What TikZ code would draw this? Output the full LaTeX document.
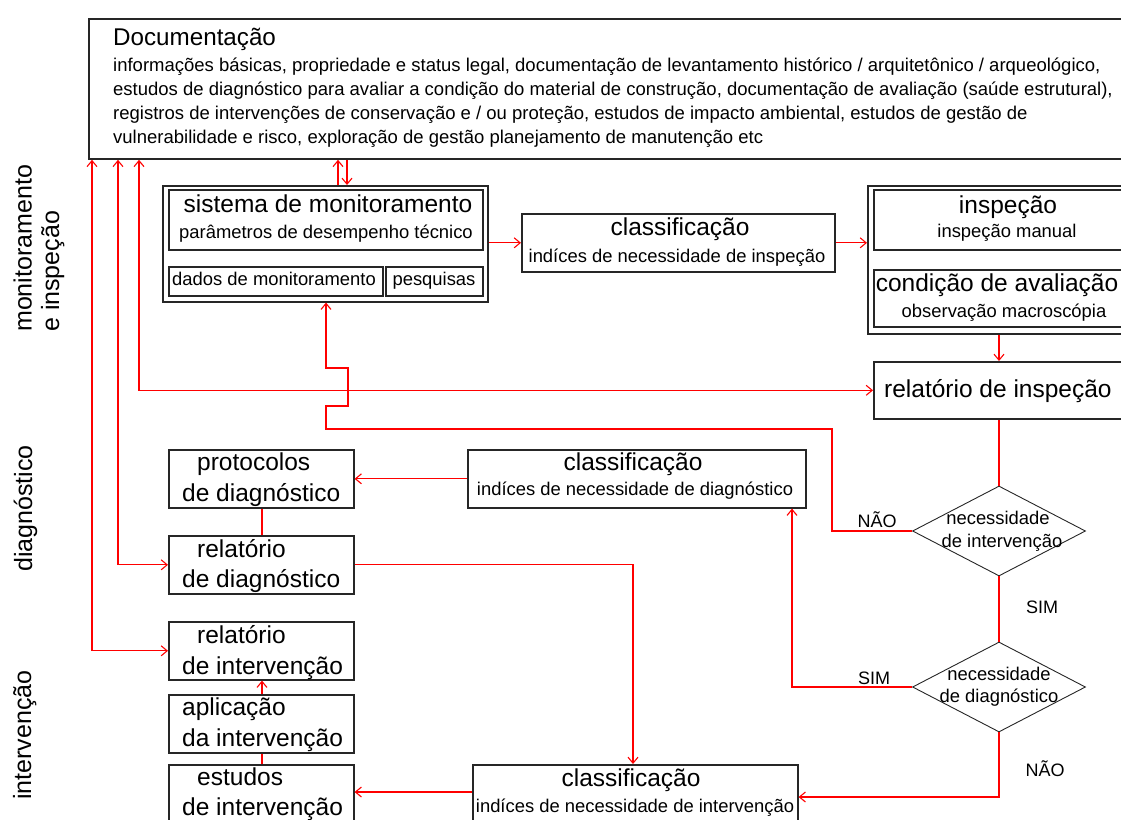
\documentclass[tikz,border=0pt]{standalone}
\usepackage{fontspec}
\setmainfont{Liberation Sans}
\usetikzlibrary{arrows.meta,shapes.geometric}
\begin{document}
\begin{tikzpicture}[x=1pt,y=-1pt,
  box/.style={draw=black!85, line width=1.6pt, rectangle, inner sep=0pt, anchor=north west},
  dbox/.style={draw=black!85, line width=0.9pt, diamond, inner sep=0pt, minimum width=173pt, minimum height=90pt},
  txt/.style={inner sep=0pt, anchor=base},
  ttl/.style={txt, font=\fontsize{24.5}{28}\selectfont},
  sub/.style={txt, font=\fontsize{18.4}{22}\selectfont},
  body/.style={inner sep=0pt, anchor=base west, font=\fontsize{18.5}{22}\selectfont},
  lbl/.style={txt, font=\fontsize{18}{21}\selectfont},
  side/.style={inner sep=0pt, anchor=base west, rotate=90, font=\fontsize{25}{28}\selectfont},
  link/.style={draw=red, line width=1.1pt},
  arr/.style={link, -{Straight Barb[length=6pt,width=10pt]}},
  darr/.style={link, {Straight Barb[length=6pt,width=10pt]}-{Straight Barb[length=6pt,width=10pt]}},
]
\useasboundingbox (0,0) rectangle (1121,819);
\clip (0,0) rectangle (1121,819);

% Documentation
\node[box, line width=1.8pt, minimum width=1050pt, minimum height=140pt] (doc) at (88,18) {};
\node[txt, anchor=base west, font=\fontsize{24.2}{28}\selectfont] (docT) at (113,45) {Documentação};
\node[body] (docL1) at (113,71) {informações básicas, propriedade e status legal, documentação de levantamento histórico / arquitetônico / arqueológico,};
\node[body] (docL2) at (113,95) {estudos de diagnóstico para avaliar a condição do material de construção, documentação de avaliação (saúde estrutural),};
\node[body] (docL3) at (113,119) {registros de intervenções de conservação e / ou proteção, estudos de impacto ambiental, estudos de gestão de};
\node[body] (docL4) at (113,143) {vulnerabilidade e risco, exploração de gestão planejamento de manutenção etc};

% side labels
\node[side] (sideMon) at (31.5,332) {monitoramento};
\node[side] (sideMon2) at (59,332) {e inspeção};
\node[side] (sideDiag) at (32,572) {diagnóstico};
\node[side] (sideInt) at (31,800) {intervenção};

% monitoring system
\node[box, minimum width=325pt, minimum height=116pt] (mon) at (162,185) {};
\node[box, minimum width=314pt, minimum height=60pt] (monA) at (168,189) {};
\node[box, minimum width=214pt, minimum height=29pt] (dados) at (168,266) {};
\node[box, minimum width=97pt, minimum height=29pt] (pesq) at (385,266) {};
\node[ttl] (monT) at (328,212) {sistema de monitoramento};
\node[sub] (monS) at (326,238) {parâmetros de desempenho técnico};
\node[sub] (dadosT) at (274,285) {dados de monitoramento};
\node[sub] (pesqT) at (434,285) {pesquisas};

% classification 1
\node[box, minimum width=313pt, minimum height=58pt] (cls1) at (521,213) {};
\node[ttl] (cls1T) at (680,235) {classificação};
\node[sub] (cls1S) at (677,262) {indíces de necessidade de inspeção};

% inspection
\node[box, minimum width=276pt, minimum height=148pt] (insp) at (867,185) {};
\node[box, minimum width=264pt, minimum height=60pt] (inspA) at (873,189) {};
\node[box, minimum width=264pt, minimum height=57pt] (aval) at (873,269) {};
\node[ttl] (inspT) at (1008,213) {inspeção};
\node[sub] (inspS) at (1007,237) {inspeção manual};
\node[ttl] (avalT) at (997,291) {condição de avaliação};
\node[sub] (avalS) at (1004,317) {observação macroscópia};

% inspection report
\node[box, minimum width=270pt, minimum height=57pt] (rinsp) at (873,361) {};
\node[ttl, anchor=base west] (rinspT) at (884,397) {relatório de inspeção};

% diagnosis
\node[box, minimum width=185pt, minimum height=58pt] (prot) at (168,449) {};
\node[ttl, anchor=base west] (protT1) at (197,470) {protocolos};
\node[ttl, anchor=base west] (protT2) at (182,501) {de diagnóstico};
\node[box, minimum width=185pt, minimum height=58pt] (rdiag) at (168,535) {};
\node[ttl, anchor=base west] (rdiagT1) at (197,557) {relatório};
\node[ttl, anchor=base west] (rdiagT2) at (182,587) {de diagnóstico};
\node[box, minimum width=338pt, minimum height=58pt] (cls2) at (467,449) {};
\node[ttl] (cls2T) at (633,470) {classificação};
\node[sub] (cls2S) at (635,495) {indíces de necessidade de diagnóstico};

% intervention
\node[box, minimum width=185pt, minimum height=58pt] (rint) at (168,621) {};
\node[ttl, anchor=base west] (rintT1) at (197,643) {relatório};
\node[ttl, anchor=base west] (rintT2) at (182,674) {de intervenção};
\node[box, minimum width=185pt, minimum height=58pt] (apl) at (168,694) {};
\node[ttl, anchor=base west] (aplT1) at (182,715) {aplicação};
\node[ttl, anchor=base west] (aplT2) at (182,746) {da intervenção};
\node[box, minimum width=185pt, minimum height=64pt] (est) at (168,764) {};
\node[ttl, anchor=base west] (estT1) at (197,785) {estudos};
\node[ttl, anchor=base west] (estT2) at (182,815) {de intervenção};
\node[box, minimum width=325pt, minimum height=64pt] (cls3) at (472,764) {};
\node[ttl] (cls3T) at (631,786) {classificação};
\node[sub] (cls3S) at (635,812) {indíces de necessidade de intervenção};

% decisions
\node[dbox] (d1) at (999,531) {};
\node[sub] (d1T1) at (998,524) {necessidade};
\node[sub] (d1T2) at (1002,547) {de intervenção};
\node[dbox] (d2) at (999,687) {};
\node[sub] (d2T1) at (999,680) {necessidade};
\node[sub] (d2T2) at (999,702) {de diagnóstico};
\node[lbl] (nao1) at (877,527) {NÃO};
\node[lbl] (sim1) at (1042,613) {SIM};
\node[lbl] (sim2) at (874,684) {SIM};
\node[lbl] (nao2) at (1045,776) {NÃO};

% connectors
\draw[arr] (mon.north -| 338,0) -- (doc.south -| 338,0);
\draw[arr] (doc.south -| 347,0) -- (mon.north -| 347,0);
\draw[arr] (mon.east |- cls1.west) -- (cls1.west);
\draw[arr] (cls1.east) -- (cls1.east -| insp.west);
\draw[arr] (insp.south -| d1.north) -- (rinsp.north -| d1.north);
\draw[link] (rinsp.south -| d1.north) -- (d1.north);
\draw[arr] (d1.west) -- (832,531) -- (832,429) -- (326,429) -- (326,406) -- (348,406) -- (348,368) -- (326,368) -- (mon.south -| 326,0);
\draw[link] (d1.south) -- (d2.north);
\draw[arr] (d2.west) -| (cls2.south -| 792,0);
\draw[arr] (d2.south) |- (cls3.east |- 0,797);
\draw[arr] (cls2.west) -- (cls2.west -| prot.east);
\draw[link] (prot.south -| 262,0) -- (rdiag.north -| 262,0);
\draw[arr] (rdiag.east) -| (cls3.north -| 633,0);
\draw[arr] (cls3.west |- 0,792) -- (est.east |- 0,792);
\draw[link] (est.north -| 262,0) -- (apl.south -| 262,0);
\draw[arr] (apl.north -| 262,0) -- (rint.south -| 262,0);
\draw[darr] (rint.west) -| (doc.south -| 92,0);
\draw[darr] (rdiag.west) -| (doc.south -| 118,0);
\draw[darr] (rinsp.west) -| (doc.south -| 139,0);
\end{tikzpicture}
\end{document}
